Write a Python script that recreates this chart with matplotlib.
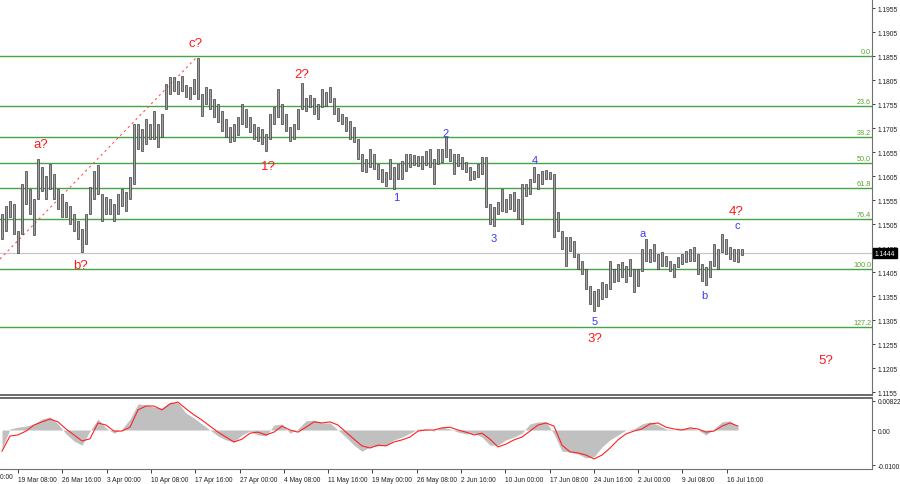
import numpy as np
import matplotlib
matplotlib.use("Agg")
import matplotlib.pyplot as plt
from matplotlib.transforms import blended_transform_factory

plt.rcParams['font.family'] = ['Liberation Sans', 'DejaVu Sans']

# ----------------------------
# Data (EUR/USD H4, one entry per ~3 source bars)
# ----------------------------
bar_high = [
    1.1526, 1.1543, 1.1553, 1.1547, 1.1491, 1.1588, 1.1615, 1.1578, 1.1557, 1.1640,
    1.1624, 1.1605, 1.1630, 1.1609, 1.1578, 1.1568, 1.1551, 1.1543, 1.1526, 1.1511,
    1.1495, 1.1526, 1.1582, 1.1615, 1.1628, 1.1568, 1.1561, 1.1557, 1.1547, 1.1568,
    1.1578, 1.1572, 1.1603, 1.1713, 1.1713, 1.1703, 1.1724, 1.1713, 1.1740, 1.1713,
    1.1734, 1.1797, 1.1811, 1.1811, 1.1803, 1.1813, 1.1795, 1.1790, 1.1807, 1.1851,
    1.1776, 1.1790, 1.1786, 1.1765, 1.1755, 1.1740, 1.1724, 1.1707, 1.1713, 1.1728,
    1.1755, 1.1745, 1.1728, 1.1713, 1.1707, 1.1703, 1.1693, 1.1734, 1.1749, 1.1786,
    1.1755, 1.1734, 1.1707, 1.1713, 1.1745, 1.1799, 1.1768, 1.1774, 1.1768, 1.1755,
    1.1786, 1.1780, 1.1790, 1.1768, 1.1747, 1.1734, 1.1728, 1.1720, 1.1707, 1.1682,
    1.1651, 1.1640, 1.1661, 1.1651, 1.1630, 1.1620, 1.1613, 1.1640, 1.1624, 1.1630,
    1.1636, 1.1651, 1.1651, 1.1649, 1.1647, 1.1647, 1.1657, 1.1661, 1.1640, 1.1661,
    1.1661, 1.1686, 1.1661, 1.1651, 1.1651, 1.1645, 1.1634, 1.1624, 1.1615, 1.1630,
    1.1645, 1.1645, 1.1547, 1.1540, 1.1551, 1.1578, 1.1557, 1.1568, 1.1572, 1.1557,
    1.1588, 1.1588, 1.1599, 1.1624, 1.1609, 1.1615, 1.1617, 1.1613, 1.1609, 1.1530,
    1.1491, 1.1478, 1.1478, 1.1470, 1.1443, 1.1428, 1.1411, 1.1376, 1.1365, 1.1370,
    1.1384, 1.1380, 1.1428, 1.1411, 1.1422, 1.1426, 1.1418, 1.1432, 1.1411, 1.1411,
    1.1453, 1.1474, 1.1453, 1.1463, 1.1443, 1.1447, 1.1439, 1.1428, 1.1422, 1.1437,
    1.1443, 1.1449, 1.1453, 1.1457, 1.1443, 1.1422, 1.1416, 1.1428, 1.1463, 1.1453,
    1.1484, 1.1474, 1.1457, 1.1453, 1.1453, 1.1453,
]
bar_low = [
    1.1474, 1.1491, 1.1520, 1.1484, 1.1445, 1.1484, 1.1547, 1.1526, 1.1482, 1.1557,
    1.1574, 1.1557, 1.1578, 1.1557, 1.1536, 1.1520, 1.1520, 1.1505, 1.1491, 1.1474,
    1.1447, 1.1463, 1.1526, 1.1557, 1.1568, 1.1511, 1.1526, 1.1526, 1.1511, 1.1526,
    1.1543, 1.1532, 1.1557, 1.1588, 1.1661, 1.1657, 1.1672, 1.1682, 1.1682, 1.1665,
    1.1686, 1.1745, 1.1776, 1.1782, 1.1776, 1.1782, 1.1770, 1.1765, 1.1776, 1.1765,
    1.1730, 1.1755, 1.1745, 1.1728, 1.1718, 1.1699, 1.1686, 1.1676, 1.1678, 1.1690,
    1.1713, 1.1707, 1.1697, 1.1682, 1.1678, 1.1672, 1.1657, 1.1682, 1.1713, 1.1728,
    1.1713, 1.1699, 1.1678, 1.1682, 1.1703, 1.1745, 1.1740, 1.1749, 1.1734, 1.1724,
    1.1749, 1.1751, 1.1759, 1.1734, 1.1720, 1.1713, 1.1699, 1.1682, 1.1676, 1.1640,
    1.1615, 1.1613, 1.1624, 1.1620, 1.1599, 1.1593, 1.1584, 1.1599, 1.1578, 1.1599,
    1.1599, 1.1615, 1.1624, 1.1628, 1.1626, 1.1620, 1.1628, 1.1624, 1.1588, 1.1630,
    1.1634, 1.1645, 1.1636, 1.1609, 1.1626, 1.1620, 1.1613, 1.1597, 1.1599, 1.1603,
    1.1609, 1.1540, 1.1505, 1.1501, 1.1526, 1.1532, 1.1530, 1.1536, 1.1532, 1.1515,
    1.1505, 1.1563, 1.1568, 1.1593, 1.1578, 1.1588, 1.1599, 1.1599, 1.1478, 1.1491,
    1.1453, 1.1418, 1.1449, 1.1437, 1.1411, 1.1401, 1.1370, 1.1338, 1.1324, 1.1334,
    1.1349, 1.1353, 1.1370, 1.1384, 1.1386, 1.1395, 1.1384, 1.1397, 1.1363, 1.1376,
    1.1407, 1.1428, 1.1426, 1.1428, 1.1411, 1.1418, 1.1418, 1.1407, 1.1395, 1.1416,
    1.1422, 1.1426, 1.1428, 1.1428, 1.1401, 1.1386, 1.1378, 1.1395, 1.1418, 1.1411,
    1.1447, 1.1443, 1.1432, 1.1428, 1.1426, 1.1441,
]

# oscillator sampled every second entry
osc_hist = [
    -0.0054, 0.0003, 0.0008, 0.0011, 0.0017, 0.0031, 0.0037, 0.0017, -0.0011, -0.0031,
    -0.0043, -0.0003, 0.0031, 0.0006, -0.0009, 0.0003, 0.0031, 0.0074, 0.0071, 0.0065,
    0.0062, 0.0079, 0.0077, 0.0048, 0.0034, 0.0017, 0.0000, -0.0017, -0.0028, -0.0034,
    -0.0014, -0.0003, -0.0014, -0.0017, 0.0014, 0.0017, -0.0009, 0.0003, 0.0026, 0.0028,
    0.0020, 0.0020, 0.0000, -0.0020, -0.0043, -0.0060, -0.0048, -0.0045, -0.0043, -0.0028,
    -0.0020, -0.0009, 0.0003, 0.0003, -0.0003, 0.0008, 0.0003, -0.0006, -0.0011, -0.0009,
    -0.0020, -0.0043, -0.0043, -0.0028, -0.0020, -0.0009, 0.0017, 0.0023, 0.0023, -0.0011,
    -0.0060, -0.0062, -0.0068, -0.0079, -0.0076, -0.0048, -0.0028, -0.0014, 0.0000, 0.0003,
    0.0017, 0.0023, 0.0014, 0.0003, 0.0000, 0.0003, 0.0006, 0.0000, -0.0014, 0.0003,
    0.0023, 0.0026, 0.0008,
]
osc_signal = [
    -0.0060, -0.0017, -0.0014, -0.0003, 0.0014, 0.0023, 0.0031, 0.0023, 0.0003, -0.0014,
    -0.0031, -0.0025, 0.0020, 0.0014, -0.0003, -0.0003, 0.0008, 0.0057, 0.0068, 0.0068,
    0.0057, 0.0074, 0.0079, 0.0060, 0.0043, 0.0028, 0.0011, -0.0006, -0.0020, -0.0034,
    -0.0026, -0.0009, -0.0006, -0.0014, -0.0006, 0.0011, 0.0000, -0.0006, 0.0008, 0.0023,
    0.0020, 0.0023, 0.0014, -0.0006, -0.0026, -0.0045, -0.0051, -0.0043, -0.0045, -0.0034,
    -0.0028, -0.0020, -0.0003, 0.0000, 0.0000, 0.0006, 0.0008, 0.0000, -0.0006, -0.0014,
    -0.0009, -0.0026, -0.0048, -0.0040, -0.0028, -0.0020, -0.0003, 0.0014, 0.0020, 0.0011,
    -0.0043, -0.0062, -0.0065, -0.0071, -0.0082, -0.0071, -0.0051, -0.0028, -0.0011, -0.0003,
    0.0003, 0.0017, 0.0020, 0.0008, 0.0003, 0.0000, 0.0006, 0.0003, -0.0006, -0.0003,
    0.0011, 0.0020, 0.0011,
]

# Fibonacci grid
fib_top = 1.1855
fib_bottom = 1.1411
fib_levels = [0.0, 23.6, 38.2, 50.0, 61.8, 76.4, 100.0, 127.2, 161.8]

last_price = 1.1444

# trend line a?-c?
trend_bars = [-0.5, 48.5]
trend_prices = [1.1432, 1.1851]

# wave labels: (text, bar, price, colour, size)
wave_labels = [
    ("c?", 48.5, 1.1882, "red", 9.5),
    ("a?", 9.75, 1.1672, "red", 9.5),
    ("b?", 19.75, 1.1420, "red", 9.5),
    ("1?", 66.5, 1.1626, "red", 9.5),
    ("2?", 75.0, 1.1818, "red", 9.5),
    ("1", 98.5, 1.1561, "blue", 8),
    ("2", 111.0, 1.1695, "blue", 8),
    ("3", 123.0, 1.1476, "blue", 8),
    ("4", 133.25, 1.1638, "blue", 8),
    ("5", 148.25, 1.1303, "blue", 8),
    ("3?", 148.25, 1.1268, "red", 9.5),
    ("a", 160.25, 1.1486, "blue", 8),
    ("b", 175.5, 1.1357, "blue", 8),
    ("c", 183.75, 1.1503, "blue", 8),
    ("4?", 183.5, 1.1532, "red", 9.5),
    ("5?", 206.0, 1.1222, "red", 9.5),
]

price_ticks = [1.1155, 1.1205, 1.1255, 1.1305, 1.1355, 1.1405, 1.1455,
               1.1505, 1.1555, 1.1605, 1.1655, 1.1705, 1.1755, 1.1805,
               1.1855, 1.1905, 1.1955]

date_labels = ["19 Mar 08:00", "26 Mar 16:00", "3 Apr 00:00", "10 Apr 08:00",
               "17 Apr 16:00", "27 Apr 00:00", "4 May 08:00", "11 May 16:00",
               "19 May 00:00", "26 May 08:00", "2 Jun 16:00", "10 Jun 00:00",
               "17 Jun 08:00", "24 Jun 16:00", "2 Jul 00:00", "9 Jul 08:00",
               "16 Jul 16:00"]
date_pos = [4.0, 15.1, 26.2, 37.2, 48.3, 59.4, 70.5, 81.5, 92.6, 103.7,
            114.8, 125.8, 136.9, 148.0, 159.1, 170.1, 181.2]

# ----------------------------
# Figure
# ----------------------------
W, H = 900, 485
fig = plt.figure(figsize=(W / 100, H / 100), dpi=100)
fig.patch.set_facecolor("white")

ax = fig.add_axes([0, 1 - 396 / H, 872 / W, 396 / H])
ax2 = fig.add_axes([0, 1 - 470 / H, 872 / W, 71 / H])

xlim = (-0.5, 217.5)
idx = np.arange(len(bar_high))
hi = np.array(bar_high)
lo = np.array(bar_low)

# price bars: light body with dark outline, drawn thin
ax.bar(idx, hi - lo, bottom=lo, width=0.42, color="#a0a0a0",
       edgecolor="#3a3a3a", linewidth=0.5, zorder=3)

# fib levels
for lv in fib_levels:
    p = fib_top - lv / 100.0 * (fib_top - fib_bottom)
    ax.axhline(p, color="#46a446", lw=1.0, zorder=1)
    ax.text(217.3, p + 0.0002, f"{lv:.1f}", color="#5aa030", fontsize=5.2,
            ha="right", va="bottom", zorder=2, clip_on=True)

# last price line
ax.axhline(last_price, color="#c8c8c8", lw=0.9, zorder=1)

# trend line
ax.plot(trend_bars, trend_prices, color="#ff5050", lw=0.8,
        ls=(0, (2, 3)), zorder=2)

for txt, b, p, c, fs in wave_labels:
    col = "#ff1a1a" if c == "red" else "#3a3aff"
    ax.text(b, p, txt, color=col, fontsize=fs, ha="center", va="center", zorder=4)

ax.set_xlim(*xlim)
ax.set_ylim(1.11488, 1.19738)
ax.yaxis.tick_right()
ax.set_yticks(price_ticks)
ax.set_yticklabels([f"{t:.4f}" for t in price_ticks])
ax.tick_params(axis="y", labelsize=4.8, length=2, width=0.6, pad=2,
               colors="#202020")
ax.set_xticks([])
for s in ["left", "top"]:
    ax.spines[s].set_visible(False)
ax.spines["right"].set_color("#707070")
ax.spines["bottom"].set_color("#606060")
ax.spines["bottom"].set_linewidth(1.3)

# price box
ax.text(1.003, last_price, f"{last_price:.4f}", transform=ax.get_yaxis_transform(),
        color="white", fontsize=4.8, ha="left", va="center", zorder=6,
        bbox=dict(boxstyle="square,pad=0.25", fc="black", ec="black"),
        clip_on=False)

# ----------------------------
# Oscillator panel
# ----------------------------
osc_x = idx[::2][:len(osc_hist)]
ax2.fill_between(osc_x, 0, osc_hist, color="#c0c0c0", lw=0, zorder=1)
ax2.plot(osc_x, osc_signal, color="#ff2020", lw=0.8, zorder=2)
ax2.set_xlim(*xlim)
ax2.set_ylim(-0.01105, 0.00907)
ax2.yaxis.tick_right()
ax2.set_yticks([0.00822, 0.0, -0.01001])
ax2.set_yticklabels(["0.00822", "0.00", "-0.01001"])
ax2.tick_params(axis="y", labelsize=4.8, length=2, width=0.6, pad=2,
                colors="#202020")
ax2.set_xticks(date_pos)
ax2.set_xticklabels(date_labels, ha="left")
ax2.tick_params(axis="x", labelsize=4.8, length=3, width=0.6, pad=2,
                colors="#202020")
ax2.spines["left"].set_visible(False)
ax2.spines["top"].set_color("#606060")
ax2.spines["top"].set_linewidth(1.3)
ax2.spines["right"].set_color("#707070")
ax2.spines["bottom"].set_color("#707070")

# cut-off first date label at the left edge
tr = blended_transform_factory(ax2.transData, ax2.transAxes)
ax2.text(-7.1, -0.05, "12 Mar 00:00", transform=tr, fontsize=4.8,
         color="#202020", ha="left", va="top", clip_on=False)

fig.savefig("out.png", dpi=100)
